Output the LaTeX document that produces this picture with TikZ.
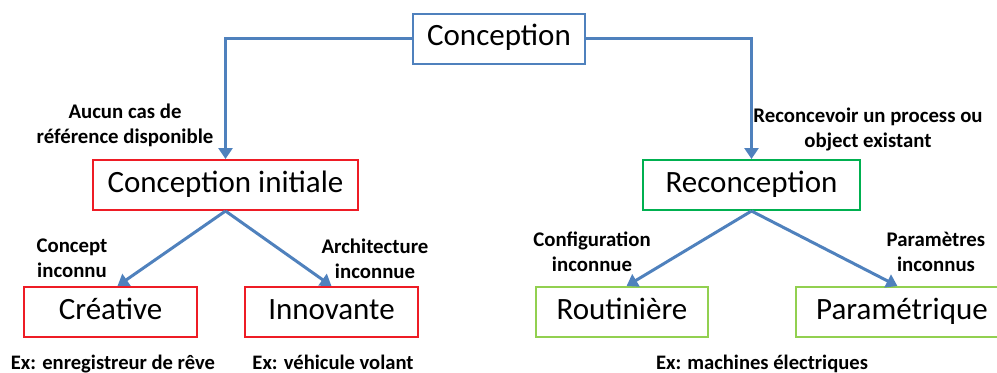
\documentclass[tikz,border=0pt]{standalone}
\usepackage{fontspec}
\setmainfont{Carlito}
\usetikzlibrary{arrows.meta}
\definecolor{lineblue}{HTML}{4F81BD}
\definecolor{boxred}{HTML}{EE1C25}
\definecolor{boxgreen}{HTML}{00B050}
\definecolor{lightgreen}{HTML}{92D050}
\tikzset{
    box/.style={draw, line width=1pt, inner sep=0pt, minimum height=25pt,
        text height=0.7em, text depth=0pt,
        font=\fontsize{15.5}{18}\selectfont},
    lbl/.style={align=center, font=\bfseries\fontsize{10.4}{12.5}\selectfont},
    exlbl/.style={anchor=base, font=\bfseries\fontsize{10.3}{12}\selectfont},
    arrow/.style={lineblue, line width=1.5pt, -{Triangle[width=7pt,length=5.5pt]}}
}
\begin{document}
\begin{tikzpicture}[x=0.5pt, y=-0.5pt]
        \useasboundingbox (0, 0) rectangle (997, 372);
        \clip (0, 0) rectangle (997, 372);
        % boxes
        \node[box, draw=lineblue, minimum width=86pt] (concept) at (499, 38.5) {Conception};
        \node[box, draw=boxred, minimum width=132.5pt] (initiale) at (225.5, 185) {Conception initiale};
        \node[box, draw=boxgreen, minimum width=108.5pt] (reconc) at (751.5, 185) {Reconception};
        \node[box, draw=boxred, minimum width=86.5pt] (creative) at (110.5, 312) {Créative};
        \node[box, draw=boxred, minimum width=86.5pt] (innov) at (331.5, 312) {Innovante};
        \node[box, draw=lightgreen, minimum width=86pt] (routine) at (622, 312) {Routinière};
        \node[box, draw=lightgreen, minimum width=106pt] (param) at (902, 312) {Paramétrique};

        % arrows
        \draw[arrow] (concept.west) -| (initiale.north);
        \draw[arrow] (concept.east) -| (reconc.north);
        \draw[arrow] (initiale.south) -- (creative.75);
        \draw[arrow] (initiale.south) -- (innov.north);
        \draw[arrow] (reconc.south) -- (routine.80);
        \draw[arrow] (reconc.south) -- (param.100);

        % bold labels
        \node[lbl] (aucun) at (125, 125.5) {Aucun cas de\\référence disponible};
        \node[lbl] (reconcevoir) at (868, 129) {Reconcevoir un process ou\\object existant};
        \node[lbl] (cinconnu) at (72, 258.5) {Concept\\inconnu};
        \node[lbl] (ainconnue) at (375, 258.5) {Architecture\\inconnue};
        \node[lbl] (cfinconnue) at (592, 251.5) {Configuration\\inconnue};
        \node[lbl] (pinconnus) at (936, 251.5) {Paramètres\\inconnus};

        \node[exlbl] (exreve) at (113, 369) {Ex: enregistreur de rêve};
        \node[exlbl] (exvolant) at (333, 369) {Ex: véhicule volant};
        \node[exlbl] (exmachines) at (762, 369) {Ex: machines électriques};
    \end{tikzpicture}
\end{document}
